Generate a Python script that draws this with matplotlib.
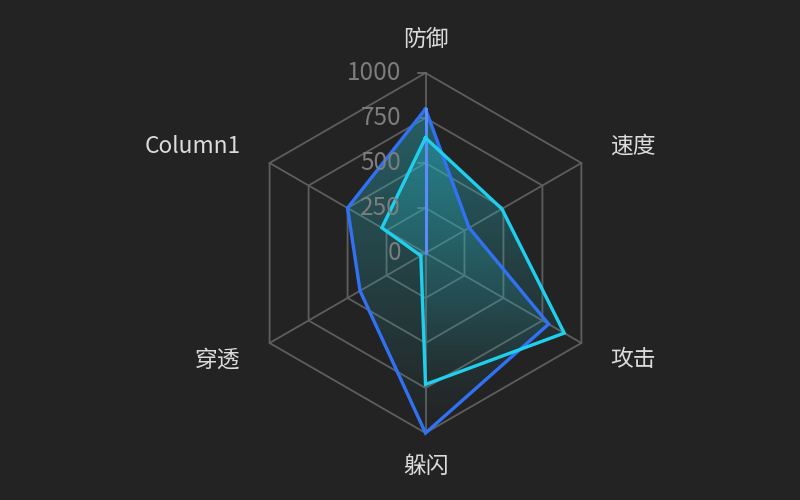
import numpy as np
import matplotlib
matplotlib.use('Agg')
import matplotlib.pyplot as plt
from matplotlib.patches import Polygon
from matplotlib.colors import to_rgb

plt.rcParams['font.family'] = ['Noto Sans CJK SC', 'DejaVu Sans']

# data
indicators = ['防御', '速度', '攻击', '躲闪', '穿透', 'Column1']
series_blue = [800, 280, 790, 1000, 420, 500]
series_cyan = [640, 490, 890, 730, 30, 280]
series_axis = [800, 0, 0, 0, 0, 0]
ticks = [0, 250, 500, 750, 1000]
vmax = 1000

bg = '#232323'
angles = np.deg2rad(90 - 60 * np.arange(len(indicators)))


def to_xy(vals):
    r = np.asarray(vals, dtype=float)
    return r * np.cos(angles), r * np.sin(angles)


def closed(a):
    return np.append(a, a[0])


fig = plt.figure(figsize=(8, 5), dpi=100, facecolor=bg)
ax = fig.add_axes([0, 0, 1, 1])
ax.set_facecolor(bg)
ax.axis('off')

# grid hexagons and spokes
for t in ticks[1:]:
    x, y = to_xy([t] * len(indicators))
    ax.plot(closed(x), closed(y), color='#5e5e5e', lw=1.3, zorder=1)
for a in angles:
    ax.plot([0, vmax * np.cos(a)], [0, vmax * np.sin(a)], color='#5e5e5e', lw=1.3, zorder=1)


def gradient_fill(vals, color, a_top, zorder):
    x, y = to_xy(vals)
    poly = Polygon(np.column_stack([x, y]), closed=True, fc='none', ec='none')
    ax.add_patch(poly)
    grad = np.zeros((256, 1, 4))
    grad[..., :3] = to_rgb(color)
    grad[:, 0, 3] = np.linspace(a_top, 0.0, 256)
    im = ax.imshow(grad, extent=[x.min(), x.max(), y.min(), y.max()],
                   origin='upper', aspect='auto', zorder=zorder, interpolation='bilinear')
    im.set_clip_path(poly)


gradient_fill(series_blue, '#2ab3c2', 0.42, 2)
gradient_fill(series_cyan, '#2ab3c2', 0.42, 2)

xb, yb = to_xy(series_blue)
ax.plot(closed(xb), closed(yb), color='#3172f5', lw=2.4, zorder=4, solid_joinstyle='miter')
xa, ya = to_xy(series_axis)
ax.plot(closed(xa), closed(ya), color='#5b8cff', lw=2.0, zorder=4)
xc, yc = to_xy(series_cyan)
ax.plot(closed(xc), closed(yc), color='#1ed0ee', lw=2.4, zorder=5, solid_joinstyle='miter')

# tick labels on the first axis
for t in ticks:
    ax.plot([-39, 0], [t, t], color='#6a6a6a', lw=1.2, zorder=1)
    ax.text(-136, t, str(t), ha='right', va='center', color='#7d7d7d', fontsize=17.5, zorder=6)

# indicator names
lab_r = 1185
for name, a in zip(indicators, angles):
    c = np.cos(a)
    ha = 'center' if abs(c) < 0.1 else ('left' if c > 0 else 'right')
    ax.text(lab_r * c, lab_r * np.sin(a), name, ha=ha, va='center',
            color='#dcdcdc', fontsize=16.4)

# keep centre at (425, 253) px with 1000 -> 180 px
px = 0.18
ax.set_xlim(-425.5 / px, (800 - 425.5) / px)
ax.set_ylim(-(500 - 253) / px, 253 / px)

fig.savefig('out.png', dpi=100, facecolor=bg)
